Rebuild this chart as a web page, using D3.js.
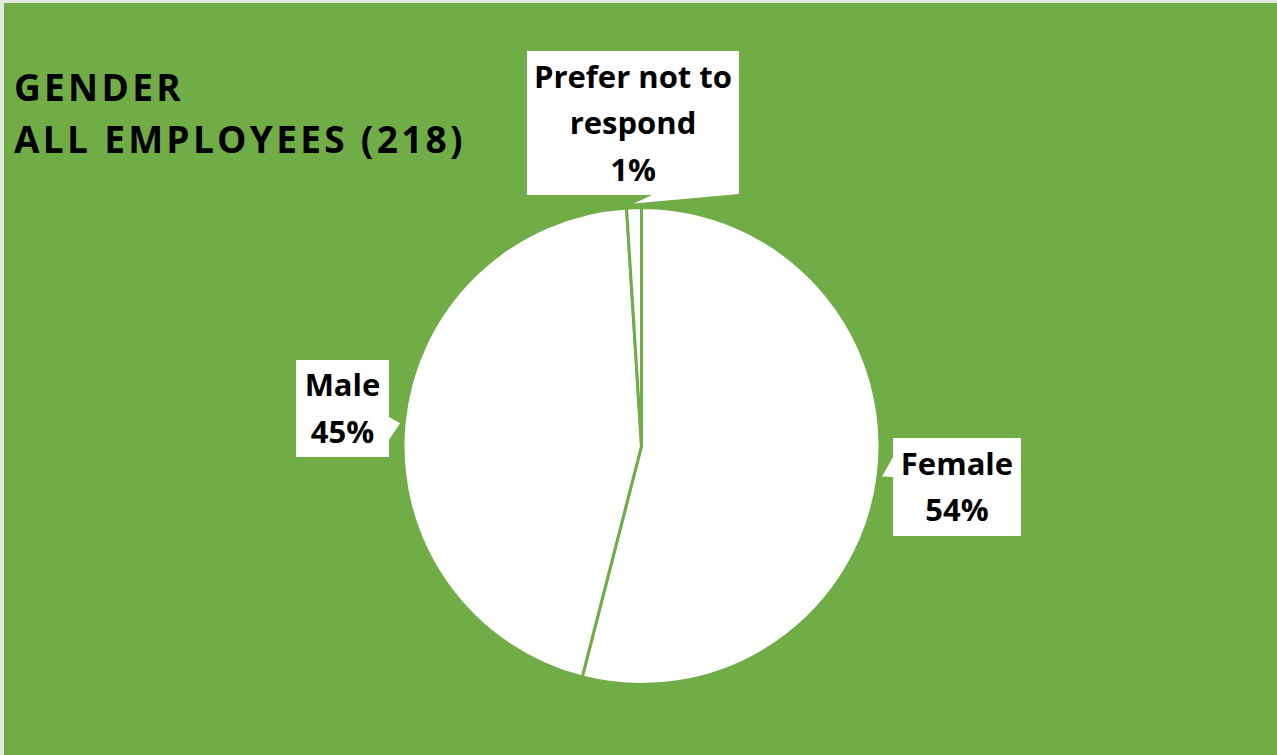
<!DOCTYPE html>
<html>
<head>
<meta charset="utf-8">
<script src="https://cdn.jsdelivr.net/npm/d3@7"></script>
<style>
  html, body { margin: 0; padding: 0; background: #ffffff; }
  svg { display: block; }
  text { font-family: "Open Sans", "Noto Sans", sans-serif; font-weight: 700; fill: #000; }
</style>
</head>
<body>
<svg id="chart" width="1277" height="755"></svg>
<script>
// Gender split of all employees
const categories = ["Female", "Male", "Prefer not to respond"];
const shares = [54, 45, 1];               // percent of employees
const labelLines = [["Female"], ["Male"], ["Prefer not to", "respond"]];
const titleLines = ["GENDER", "ALL EMPLOYEES (218)"];

const W = 1277, H = 755;
const green = "#70AD47";
const svg = d3.select("#chart");

// chart area
svg.append("rect").attr("x", 0).attr("y", 0).attr("width", W).attr("height", H).attr("fill", "#e4e9e0");
svg.append("rect").attr("x", 4).attr("y", 3).attr("width", W - 4).attr("height", H - 3).attr("fill", green);

// title
const title = svg.append("text").attr("x", 14).attr("y", 101)
  .style("font-size", "37px").style("letter-spacing", "3.3px");
titleLines.forEach((t, i) => {
  title.append("tspan").attr("x", 14).attr("y", 101 + i * 52).text(t);
});

// pie
const cx = 641.5, cy = 446, R = 238.5;
const data = categories.map((c, i) => ({ name: c, value: shares[i], lines: labelLines[i] }));
const pie = d3.pie().sort(null).value(d => d.value);
const arcs = pie(data);
const arc = d3.arc().innerRadius(0).outerRadius(R);

const g = svg.append("g").attr("transform", `translate(${cx},${cy})`);
g.selectAll("path").data(arcs).join("path")
  .attr("d", arc)
  .attr("fill", "#ffffff")
  .attr("stroke", green)
  .attr("stroke-width", 3)
  .attr("stroke-linejoin", "round");

// callout layout per slice: box rectangle and which side the pointer leaves from
const callouts = [
  { box: [893, 438, 128, 98], side: "left",   base: [457, 477] },
  { box: [296, 360, 93, 97],  side: "right",  base: [417, 440] },
  { box: [527, 51, 212, 144], side: "bottom", base: [652, 739] }
];

const lineGap = 46.5;
arcs.forEach((a, i) => {
  const c = callouts[i];
  const [x, y, w, h] = c.box;
  // pointer tip sits just outside the slice's arc
  const mid = (a.startAngle + a.endAngle) / 2;
  const tipR = R + 4;
  const tx = cx + Math.sin(mid) * tipR, ty = cy - Math.cos(mid) * tipR;
  let pts;
  if (c.side === "left") {
    pts = [[x, y], [x + w, y], [x + w, y + h], [x, y + h], [x, c.base[1]], [tx, ty], [x, c.base[0]]];
  } else if (c.side === "right") {
    pts = [[x, y], [x + w, y], [x + w, c.base[0]], [tx, ty], [x + w, c.base[1]], [x + w, y + h], [x, y + h]];
  } else {
    pts = [[x, y], [x + w, y], [x + w, y + h - 1], [tx, ty], [c.base[0], y + h], [x, y + h]];
  }
  svg.append("path")
    .attr("d", "M" + pts.map(p => p.join(",")).join("L") + "Z")
    .attr("fill", "#ffffff");

  const lines = a.data.lines.concat([d3.format(".0f")(a.data.value) + "%"]);
  const totalH = (lines.length - 1) * lineGap;
  const firstBase = y + h / 2 - totalH / 2 + 11;
  const t = svg.append("text").attr("text-anchor", "middle").style("font-size", "31px");
  lines.forEach((ln, j) => {
    t.append("tspan").attr("x", x + w / 2).attr("y", firstBase + j * lineGap).text(ln);
  });
});
</script>
</body>
</html>
